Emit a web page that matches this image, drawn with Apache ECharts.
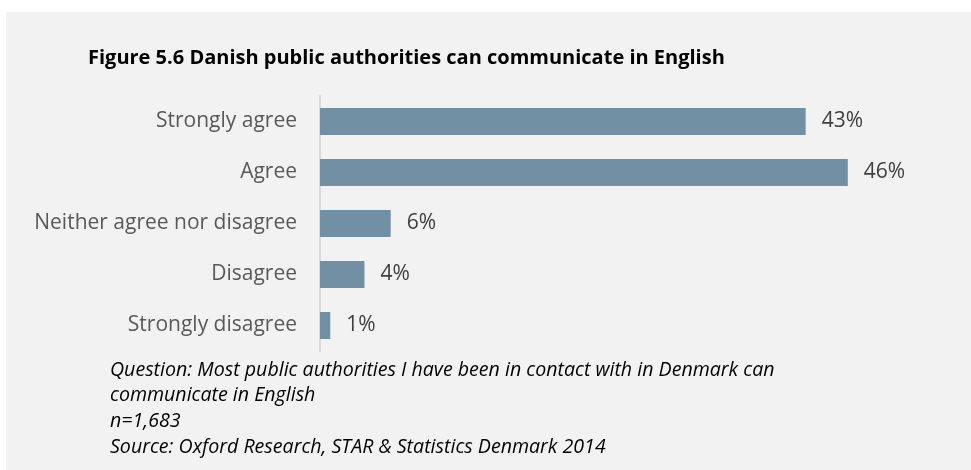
<!DOCTYPE html>
<html><head><meta charset="utf-8">
<script src="https://cdn.jsdelivr.net/npm/echarts@6/dist/echarts.min.js"></script>
<style>html,body{margin:0;padding:0;background:#fff}#c{width:971px;height:470px}</style>
</head><body><div id="c"></div>
<script>
var categories = ['Strongly agree', 'Agree', 'Neither agree nor disagree', 'Disagree', 'Strongly disagree'];
var values = [42.6, 46.3, 6.2, 3.9, 0.9];
var valueLabels = ['43%', '46%', '6%', '4%', '1%'];
var titleText = 'Figure 5.6 Danish public authorities can communicate in English';
var noteLines = [
  'Question: Most public authorities I have been in contact with in Denmark can',
  'communicate in English',
  'n=1,683',
  'Source: Oxford Research, STAR & Statistics Denmark 2014'
];

var chart = echarts.init(document.getElementById('c'));
var font = '"Open Sans", sans-serif';
var noteGraphics = noteLines.map(function (t, i) {
  return { type: 'text', left: 110, top: 360 + i * 25.8, z: 10,
    style: { text: t, fill: '#000', font: 'italic 19.6px ' + font } };
});
chart.setOption({
  backgroundColor: '#ffffff',
  animation: false,
  graphic: [
    { type: 'rect', shape: { x: 6, y: 12, width: 971, height: 470 }, style: { fill: '#f2f2f2' }, z: -10 }
  ].concat(noteGraphics),
  title: {
    text: titleText, left: 83, top: 43,
    textStyle: { fontFamily: font, fontWeight: 'bold', fontSize: 20, color: '#000' }
  },
  grid: { left: 320, right: 81, top: 96, bottom: 119, containLabel: false },
  xAxis: { type: 'value', min: 0, max: 50, show: false },
  yAxis: {
    type: 'category', inverse: true, data: categories,
    axisLine: { show: true, lineStyle: { color: '#d9d9d9', width: 2 } },
    axisTick: { show: false },
    axisLabel: { fontFamily: font, fontSize: 21, color: '#595959', margin: 23, padding: [3, 0, 0, 0] }
  },
  series: [{
    type: 'bar', data: values, barWidth: '53%',
    itemStyle: { color: '#7290a3' },
    label: {
      show: true, position: 'right', distance: 16,
      fontFamily: font, fontSize: 21, color: '#404040', padding: [3, 0, 0, 0],
      formatter: function (p) { return valueLabels[p.dataIndex]; }
    }
  }]
});
</script></body></html>
